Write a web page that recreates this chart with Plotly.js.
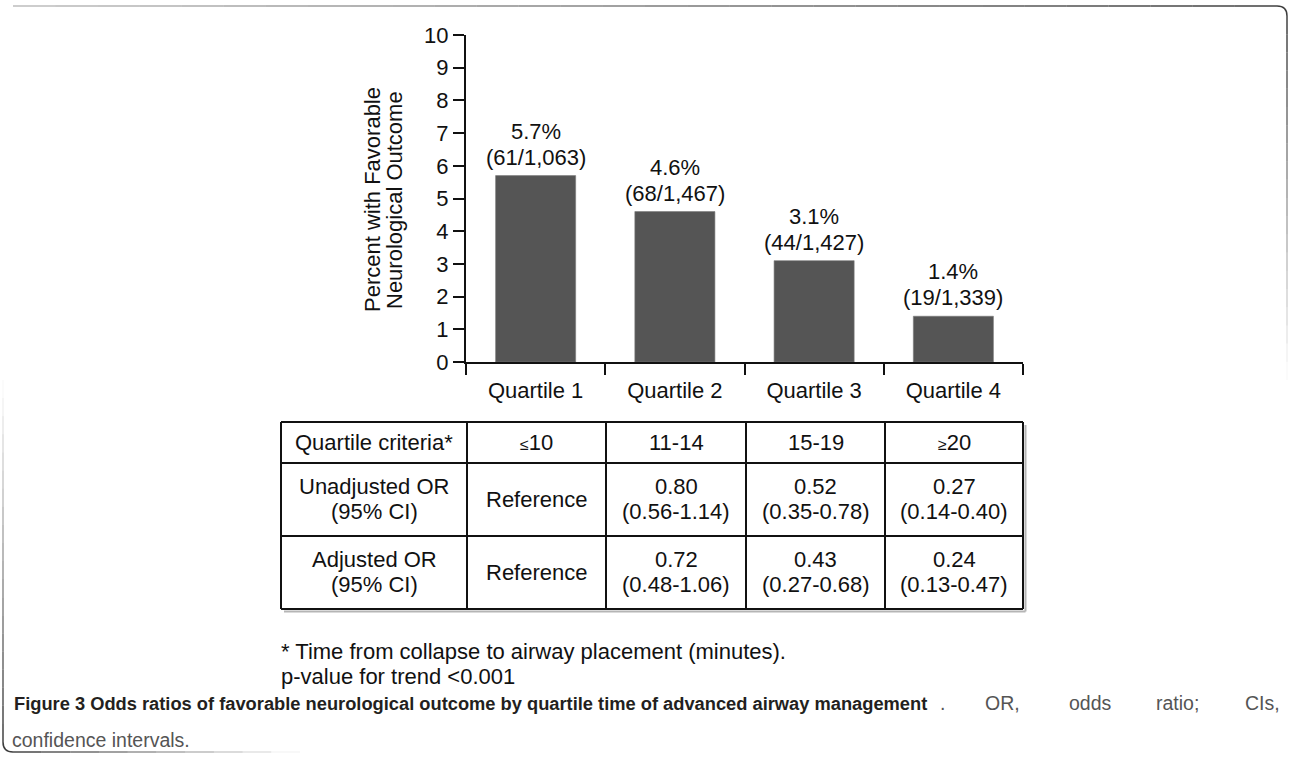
<!DOCTYPE html>
<html>
<head>
<meta charset="utf-8">
<script src="https://cdn.plot.ly/plotly-3.0.1.min.js"></script>
<style>html,body{margin:0;padding:0;background:#fff;}#chart{width:1292px;height:761px;}</style>
</head>
<body>
<div id="chart"></div>
<script>
// ---------------- DATA ----------------
const categories = ['Quartile 1', 'Quartile 2', 'Quartile 3', 'Quartile 4'];
const percentValues = [5.7, 4.6, 3.1, 1.4];
const percentLabels = ['5.7%', '4.6%', '3.1%', '1.4%'];
const countLabels = ['(61/1,063)', '(68/1,467)', '(44/1,427)', '(19/1,339)'];
const yTickValues = [0, 1, 2, 3, 4, 5, 6, 7, 8, 9, 10];
const yTitleLines = ['Percent with Favorable', 'Neurological Outcome'];

const rowHeaders = [['Quartile criteria*'], ['Unadjusted OR', '(95% CI)'], ['Adjusted OR', '(95% CI)']];
const quartileCriteria = ['≤10', '11-14', '15-19', '≥20'];
const unadjustedOR = ['Reference', '0.80', '0.52', '0.27'];
const unadjustedCI = ['', '(0.56-1.14)', '(0.35-0.78)', '(0.14-0.40)'];
const adjustedOR = ['Reference', '0.72', '0.43', '0.24'];
const adjustedCI = ['', '(0.48-1.06)', '(0.27-0.68)', '(0.13-0.47)'];

const footnoteLines = ['* Time from collapse to airway placement (minutes).', 'p-value for trend <0.001'];
const captionBold = 'Figure 3 Odds ratios of favorable neurological outcome by quartile time of advanced airway management';
const captionRestWords = ['.', 'OR,', 'odds', 'ratio;', 'CIs,'];
const captionLine2 = 'confidence intervals.';

// ---------------- LAYOUT GEOMETRY ----------------
const W = 1292, H = 761;
const PL = 466, PR = 1023, PT = 35, PB = 362;
const FONT = 'Liberation Sans, Arial, Helvetica, sans-serif';
const INK = '#111111';
const fx = p => (p - PL) / (PR - PL);
const fy = p => (PB - p) / (PB - PT);

const shapes = [];
const annotations = [];

// bar labels (anchored to data)
categories.forEach((c, i) => {
  annotations.push({x: c, y: percentValues[i], xref: 'x', yref: 'y', text: countLabels[i],
    showarrow: false, yanchor: 'bottom', yshift: 4, font: {family: FONT, size: 22, color: INK}});
  annotations.push({x: c, y: percentValues[i], xref: 'x', yref: 'y', text: percentLabels[i],
    showarrow: false, yanchor: 'bottom', yshift: 30, font: {family: FONT, size: 22, color: INK}});
});

// y axis title (two lines)
const yTitleX = [372, 394];
yTitleLines.forEach((t, i) => {
  annotations.push({x: fx(yTitleX[i]), y: fy(200), xref: 'paper', yref: 'paper', text: t, textangle: -90,
    showarrow: false, xanchor: 'center', yanchor: 'middle', font: {family: FONT, size: 22, color: INK}});
});

// table grid
const colEdges = [281, 467, 606, 746, 885, 1023];
const rowEdges = [422, 463, 536, 609];
function line(x0, y0, x1, y1, color, width) {
  shapes.push({type: 'line', xref: 'paper', yref: 'paper', x0: fx(x0), y0: fy(y0), x1: fx(x1), y1: fy(y1),
    line: {color: color, width: width}});
}
// shadow
line(colEdges[0] + 3, rowEdges[3] + 2.5, colEdges[5] + 2.5, rowEdges[3] + 2.5, '#b5b5b5', 2);
line(colEdges[5] + 2.5, rowEdges[0] + 3, colEdges[5] + 2.5, rowEdges[3] + 2.5, '#b5b5b5', 2);
rowEdges.forEach(y => line(colEdges[0], y, colEdges[5], y, INK, 2));
colEdges.forEach(x => line(x, rowEdges[0], x, rowEdges[3], INK, 2));

function cellText(text, col, yPix, size) {
  const xc = (colEdges[col] + colEdges[col + 1]) / 2;
  annotations.push({x: fx(xc), y: fy(yPix), xref: 'paper', yref: 'paper', text: text, showarrow: false,
    xanchor: 'center', yanchor: 'middle', borderpad: 0, font: {family: FONT, size: size || 22, color: INK}});
}
const rowCenters = [0, 1, 2].map(r => (rowEdges[r] + rowEdges[r + 1]) / 2);
function cellTwo(lines, col, r) {
  if (lines.length === 1 || !lines[1]) { cellText(lines[0], col, rowCenters[r]); return; }
  cellText(lines[0], col, rowCenters[r] - 13);
  cellText(lines[1], col, rowCenters[r] + 12);
}
rowHeaders.forEach((lines, r) => cellTwo(lines, 0, r));
quartileCriteria.forEach((t, i) => {
  const m = t.match(/^([≤≥])(.*)$/);
  const txt = m ? '<span style="font-size:16px">' + m[1] + '</span>' + m[2] : t;
  cellText(txt, i + 1, rowCenters[0]);
});
unadjustedOR.forEach((t, i) => cellTwo([t, unadjustedCI[i]], i + 1, 1));
adjustedOR.forEach((t, i) => cellTwo([t, adjustedCI[i]], i + 1, 2));

// footnotes
const footY = [651, 676];
footnoteLines.forEach((t, i) => {
  annotations.push({x: fx(280), y: fy(footY[i]), xref: 'paper', yref: 'paper', text: t.replace(/</g, '&lt;'),
    showarrow: false, xanchor: 'left', yanchor: 'middle', borderpad: 0, font: {family: FONT, size: 22, color: INK}});
});

// caption (justified first line)
annotations.push({x: fx(12), y: fy(703), xref: 'paper', yref: 'paper', text: '<b>' + captionBold + '</b>',
  showarrow: false, xanchor: 'left', yanchor: 'middle', font: {family: FONT, size: 18.3, color: '#231f20'}});
const capWordX = [939, 984, 1068, 1155, 1281];
captionRestWords.forEach((w, i) => {
  const last = i === captionRestWords.length - 1;
  annotations.push({x: fx(capWordX[i]), y: fy(703), xref: 'paper', yref: 'paper', text: w,
    showarrow: false, xanchor: last ? 'right' : 'left', yanchor: 'middle', borderpad: 0,
    font: {family: FONT, size: 19.5, color: '#555555'}});
});
annotations.push({x: fx(10), y: fy(740), xref: 'paper', yref: 'paper', text: captionLine2,
  showarrow: false, xanchor: 'left', yanchor: 'middle', font: {family: FONT, size: 19.5, color: '#555555'}});

// frame (fading borders with rounded corners)
const FR = {l: 3, r: 1287, t: 6, b: 752, rad: 10};
function fadeLine(x0, y0, x1, y1, a0, a1, n) {
  for (let k = 0; k < n; k++) {
    const t0 = k / n, t1 = (k + 1) / n;
    const a = a0 + (a1 - a0) * (k + 0.5) / n;
    line(x0 + (x1 - x0) * t0, y0 + (y1 - y0) * t0, x0 + (x1 - x0) * t1, y0 + (y1 - y0) * t1,
      'rgba(40,40,40,' + a.toFixed(3) + ')', 1.5);
  }
}
fadeLine(FR.l + FR.rad, FR.t, FR.r - FR.rad, FR.t, 0.3, 0.9, 30);
fadeLine(FR.r, FR.t + FR.rad, FR.r, 380, 0.9, 0.0, 20);
fadeLine(FR.l, FR.b - FR.rad, FR.l, 380, 0.9, 0.0, 20);
fadeLine(FR.l + FR.rad, FR.b, 300, FR.b, 0.9, 0.0, 10);
function arcPath(cx, cy, sx, sy, ex, ey) {
  return 'M' + fx(sx) + ',' + fy(sy) + ' Q' + fx(cx) + ',' + fy(cy) + ' ' + fx(ex) + ',' + fy(ey);
}
shapes.push({type: 'path', xref: 'paper', yref: 'paper', path: arcPath(FR.r, FR.t, FR.r - FR.rad, FR.t, FR.r, FR.t + FR.rad),
  line: {color: 'rgba(40,40,40,0.9)', width: 1.5}});
shapes.push({type: 'path', xref: 'paper', yref: 'paper', path: arcPath(FR.l, FR.b, FR.l, FR.b - FR.rad, FR.l + FR.rad, FR.b),
  line: {color: 'rgba(40,40,40,0.9)', width: 1.5}});

const data = [{
  type: 'bar', x: categories, y: percentValues,
  marker: {color: '#555555', line: {color: '#7a7a7a', width: 0.6}},
  hoverinfo: 'none'
}];

const layout = {
  width: W, height: H,
  margin: {l: PL, r: W - PR, t: PT, b: H - PB, pad: 0},
  paper_bgcolor: '#ffffff', plot_bgcolor: '#ffffff',
  showlegend: false,
  bargap: 0.425,
  font: {family: FONT, color: INK, size: 22},
  xaxis: {
    type: 'category', range: [-0.5, 3.5], tickson: 'boundaries',
    ticks: 'outside', ticklen: 11, tickwidth: 2, tickcolor: INK, ticklabelstandoff: 8,
    showline: true, linewidth: 2, linecolor: INK, showgrid: false, zeroline: false,
    tickfont: {family: FONT, size: 22, color: INK}, fixedrange: true
  },
  yaxis: {
    range: [0, 10], tickmode: 'array', tickvals: yTickValues, ticktext: yTickValues.map(String),
    ticks: 'outside', ticklen: 11, tickwidth: 2, tickcolor: INK,
    showline: true, linewidth: 2, linecolor: INK, showgrid: false, zeroline: false,
    tickfont: {family: FONT, size: 22, color: INK}, fixedrange: true
  },
  shapes: shapes,
  annotations: annotations
};

Plotly.newPlot('chart', data, layout, {displayModeBar: false, staticPlot: true});
</script>
</body>
</html>
